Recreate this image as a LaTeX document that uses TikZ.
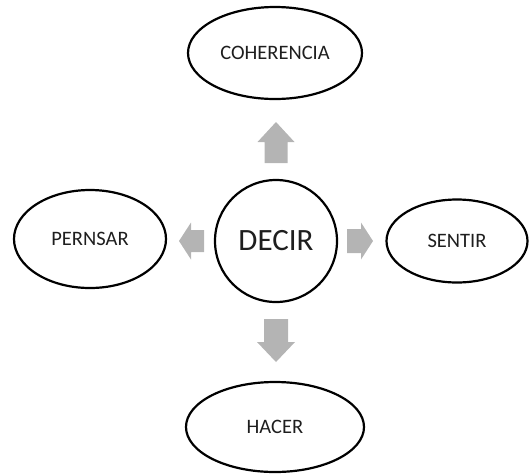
\documentclass[tikz,border=0pt]{standalone}
\usepackage{fontspec}
\setmainfont{Carlito}
\usetikzlibrary{shapes.geometric}
\definecolor{arrowgray}{HTML}{B4B4B4}
\definecolor{txtgray}{HTML}{1E1E1E}
\tikzset{
  oval/.style={draw=black, line width=2.2pt, ellipse, inner sep=0pt, text=txtgray,
    font=\fontsize{20.5}{24}\selectfont},
  bigcircle/.style={draw=black, line width=2.2pt, circle, inner sep=0pt, text=txtgray,
    font=\fontsize{31}{36}\selectfont},
  blockarrow/.style={fill=arrowgray, draw=none}
}
\begin{document}
\begin{tikzpicture}[x=1pt,y=-1pt]
\useasboundingbox (0,0) rectangle (530,475);
\node[bigcircle, minimum size=122pt] (decir) at (276,241) {DECIR};
\node[oval, minimum width=174pt, minimum height=92pt] (coh) at (275,53) {COHERENCIA};
\node[oval, minimum width=152pt, minimum height=98pt] (pen) at (90,239) {PERNSAR};
\node[oval, minimum width=141pt, minimum height=83pt] (sen) at (457,241) {SENTIR};
\node[oval, minimum width=178pt, minimum height=90pt] (hac) at (275,427) {HACER};
% arrow tips
\coordinate (tipU) at (276,122);
\coordinate (tipD) at (276,362);
\coordinate (tipL) at (179,241);
\coordinate (tipR) at (373,241);
% up arrow
\fill[blockarrow, shift={(tipU)}, rotate=90]
  (-41,-11.5) -- (-20,-11.5) -- (-20,-18.5) -- (0,0) -- (-20,18.5) -- (-20,11.5) -- (-41,11.5) -- cycle;
% down arrow
\fill[blockarrow, shift={(tipD)}, rotate=-90]
  (-43,-12) -- (-20,-12) -- (-20,-19) -- (0,0) -- (-20,19) -- (-20,12) -- (-43,12) -- cycle;
% left arrow
\fill[blockarrow, shift={(tipL)}, rotate=180]
  (-25,-11) -- (-12,-11) -- (-12,-18.5) -- (0,0) -- (-12,18.5) -- (-12,11) -- (-25,11) -- cycle;
% right arrow
\fill[blockarrow, shift={(tipR)}]
  (-26,-12) -- (-12,-12) -- (-12,-18.5) -- (0,0) -- (-12,18.5) -- (-12,12) -- (-26,12) -- cycle;
\end{tikzpicture}
\end{document}
